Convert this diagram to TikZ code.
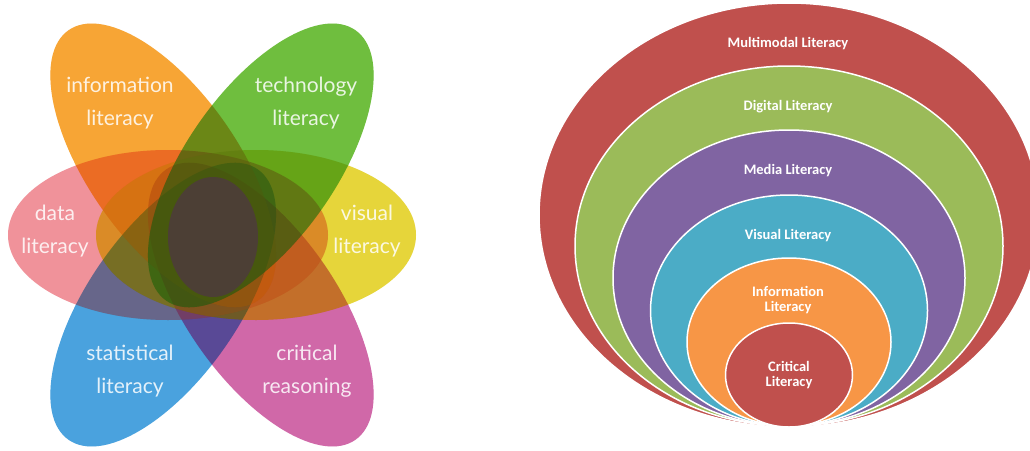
\documentclass[tikz,border=0pt]{standalone}
\usepackage{fontspec}
\usepackage{xcolor}
\usepackage{tikz}
\newfontfamily\petalfont{Lato}
\newfontfamily\ringfont{Carlito}
\definecolor{pOrange}{HTML}{F7A535}
\definecolor{pGreen}{HTML}{6FBE3E}
\definecolor{pPink}{HTML}{F0929A}
\definecolor{pYellow}{HTML}{E6D53A}
\definecolor{pBlue}{HTML}{4AA2DE}
\definecolor{pMagenta}{HTML}{D068A8}
\definecolor{pCore}{HTML}{4D3D39}
\definecolor{rRed}{HTML}{C0504D}
\definecolor{rGreen}{HTML}{9BBB59}
\definecolor{rPurple}{HTML}{8064A2}
\definecolor{rTeal}{HTML}{4BACC6}
\definecolor{rOrange}{HTML}{F79646}
\tikzset{
  petal/.style={fill=#1, blend mode=multiply},
  petalwash/.style={fill=#1, fill opacity=0.2},
  petaltext/.style={text=white, text opacity=0.85, align=center, inner sep=0pt, font=\petalfont\fontsize{21}{33}\selectfont},
  ring/.style={fill=#1, draw=white, line width=1.5pt},
  ringtext/.style={text=white, align=center, inner sep=0pt, font=\ringfont\bfseries\fontsize{14.5}{14.4}\selectfont}
}
% one petal: colour, centre, ellipse options
\newcommand{\petal}[3]{%
  \fill[petal=#1] #2 ellipse [#3];
  \fill[petalwash=#1] #2 ellipse [#3];}

\begin{document}
\begin{tikzpicture}[x=1pt, y=-1pt]
  \fill[white] (0,0) rectangle (1030,450);
  \useasboundingbox (0,0) rectangle (1030,450);
  % flower of literacies
  \petal{pBlue}{(163.2,304.6)}{x radius=165pt, y radius=75pt, rotate=55}
  \petal{pMagenta}{(260.8,304.6)}{x radius=165pt, y radius=75pt, rotate=-55}
  \petal{pPink}{(168,235)}{x radius=160pt, y radius=85pt}
  \petal{pOrange}{(163.2,165.4)}{x radius=165pt, y radius=75pt, rotate=125}
  \petal{pYellow}{(256,235)}{x radius=160pt, y radius=85pt}
  \petal{pGreen}{(260.8,165.4)}{x radius=165pt, y radius=75pt, rotate=55}
  \fill[pCore, opacity=0.92] (213,237) ellipse [x radius=45pt, y radius=60pt];
  \node[petaltext] (info) at (120,103) {information\\literacy};
  \node[petaltext] (tech) at (306,103) {technology\\literacy};
  \node[petaltext] (data) at (55,231) {data\\literacy};
  \node[petaltext] (vis)  at (367,231) {visual\\literacy};
  \node[petaltext] (stat) at (130,371) {statistical\\literacy};
  \node[petaltext] (crit) at (307,371) {critical\\reasoning};
  % nested rings
  \filldraw[ring=rRed]    (789,215)   ellipse [x radius=250pt, y radius=212pt];
  \filldraw[ring=rGreen]  (789,246)   ellipse [x radius=214pt, y radius=180pt];
  \filldraw[ring=rPurple] (789,278)   ellipse [x radius=176pt, y radius=148pt];
  \filldraw[ring=rTeal]   (789,310.5) ellipse [x radius=138.5pt, y radius=115.5pt];
  \filldraw[ring=rOrange] (789,342)   ellipse [x radius=102pt, y radius=84pt];
  \filldraw[ring=rRed]    (789,375)   ellipse [x radius=63.5pt, y radius=52pt];
  \node[ringtext] (multi)   at (788,44)  {Multimodal Literacy};
  \node[ringtext] (digital) at (788,107) {Digital Literacy};
  \node[ringtext] (media)   at (788,171) {Media Literacy};
  \node[ringtext] (visual)  at (788,236) {Visual Literacy};
  \node[ringtext] (infolit) at (788,300) {Information\\Literacy};
  \node[ringtext] (critlit) at (789,375) {Critical\\Literacy};
\end{tikzpicture}
\end{document}
